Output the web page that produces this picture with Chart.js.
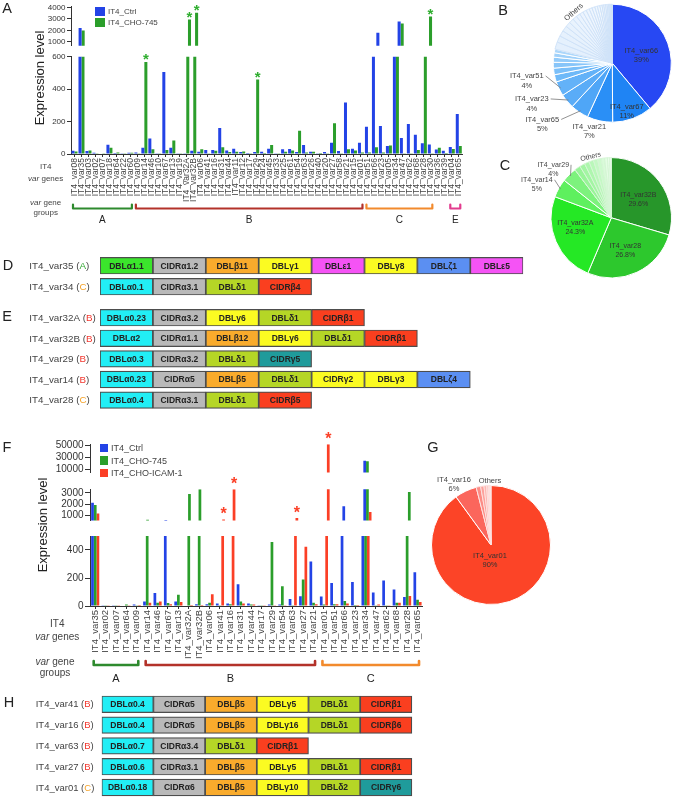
<!DOCTYPE html>
<html>
<head>
<meta charset="utf-8">
<title>IT4 var gene expression</title>
<script src="https://cdn.jsdelivr.net/npm/chart.js@4.4.1/dist/chart.umd.min.js"></script>
<style>
  html, body { margin: 0; padding: 0; background: #fff; }
  #fig { position: relative; width: 675px; height: 801px; overflow: hidden;
         font-family: 'Liberation Sans', Arial, sans-serif; color: #333; }
  #fig canvas { position: absolute; }
  .t { position: absolute; white-space: nowrap; line-height: 1; }
  .sq { position: absolute; }
</style>
</head>
<body>
<div id="fig"></div>
<script>
// ---------- panel A : IT4_Ctrl vs IT4_CHO-745 ----------
const genesA = ['IT4_var08','IT4_var35','IT4_var03','IT4_var02','IT4_var07','IT4_var18','IT4_var64','IT4_var22',
  'IT4_var60','IT4_var09','IT4_var14','IT4_var46','IT4_var10','IT4_var67','IT4_var13','IT4_var19','IT4_var32A',
  'IT4_var32B','IT4_var06','IT4_var41','IT4_var16','IT4_var31','IT4_var44','IT4_var11','IT4_var12','IT4_var17',
  'IT4_var29','IT4_var24','IT4_var45','IT4_var33','IT4_var25','IT4_var61','IT4_var54','IT4_var63','IT4_var26',
  'IT4_var40','IT4_var20','IT4_var27','IT4_var58','IT4_var21','IT4_var15','IT4_var01','IT4_var51','IT4_var66',
  'IT4_var23','IT4_var05','IT4_var34','IT4_var47','IT4_var62','IT4_var68','IT4_var28','IT4_var30','IT4_var36',
  'IT4_var39','IT4_var04','IT4_var65'];
const ctrlA = [20, 2200, 18, 8, 3, 57, 6, 4, 8, 10, 39, 96, 2, 506, 39, 1, 4, 20, 14, 25, 25, 160, 22, 33, 12, 6,
  12, 14, 33, 1, 29, 31, 12, 55, 14, 1, 12, 70, 18, 318, 33, 70, 168, 1800, 172, 49, 2780, 98, 185, 119, 66, 59,
  27, 20, 43, 246];
const cho745A = [15, 1980, 22, 2, 2, 39, 10, 2, 8, 2, 568, 30, 2, 25, 84, 1, 2950, 3550, 29, 2, 20, 41, 12, 14, 16, 1,
  459, 6, 55, 1, 14, 22, 143, 10, 14, 6, 2, 189, 2, 29, 22, 10, 10, 41, 10, 53, 2600, 2, 2, 25, 3210, 2,
  39, 6, 31, 49];
const starsA = ['IT4_var14', 'IT4_var32A', 'IT4_var32B', 'IT4_var29', 'IT4_var28'];
const ticksA_top = [1000, 2000, 3000, 4000];
const ticksA_low = [0, 200, 400, 600];
const groupsA = [['A', 'IT4_var08', 'IT4_var60'], ['B', 'IT4_var09', 'IT4_var01'],
  ['C', 'IT4_var51', 'IT4_var30'], ['E', 'IT4_var04', 'IT4_var65']];

// ---------- panel F : Ctrl / CHO-745 / CHO-ICAM-1 ----------
const genesF = ['IT4_var35','IT4_var02','IT4_var07','IT4_var64','IT4_var09','IT4_var14','IT4_var46','IT4_var67',
  'IT4_var13','IT4_var32A','IT4_var32B','IT4_var06','IT4_var41','IT4_var16','IT4_var31','IT4_var44','IT4_var17',
  'IT4_var29','IT4_var54','IT4_var63','IT4_var27','IT4_var21','IT4_var01','IT4_var51','IT4_var66','IT4_var23',
  'IT4_var34','IT4_var47','IT4_var62','IT4_var68','IT4_var28','IT4_var65'];
const ctrlF = [2130, 5, 1, 3, 10, 33, 93, 590, 33, 3, 12, 12, 17, 17, 155, 17, 5, 10, 10, 50, 69, 318, 67, 165,
  1800, 172, 24600, 96, 182, 117, 65, 241];
const cho745F = [1920, 1, 1, 10, 2, 600, 24, 22, 81, 2900, 3320, 24, 1, 12, 33, 10, 1, 457, 141, 2, 189, 24, 10, 12,
  36, 7, 23700, 2, 2, 24, 3080, 45];
const icamF = [1160, 1, 1, 2, 7, 24, 33, 12, 29, 7, 7, 84, 640, 3320, 17, 10, 1, 1, 1, 760, 423, 12, 52000, 12,
  17, 7, 1300, 10, 5, 24, 72, 29];
const starsF = ['IT4_var41', 'IT4_var16', 'IT4_var63', 'IT4_var01'];
const ticksF_top = [10000, 30000, 50000];
const ticksF_mid = [1000, 2000, 3000];
const ticksF_low = [0, 100, 200, 300, 400, 500];
const groupsF = [['A', 'IT4_var35', 'IT4_var09'], ['B', 'IT4_var14', 'IT4_var21'], ['C', 'IT4_var01', 'IT4_var65']];

// ---------- pies B, C, G (percent of total) ----------
const pieB_labels = ['IT4_var66','IT4_var67','IT4_var21','IT4_var65','IT4_var23','IT4_var51',
  'b1','b2','b3','b4','b5','b6',
  'o1','o2','o3','o4','o5','o6','o7','o8','o9','o10','o11','o12','o13','o14','o15','o16','o17','o18','o19','o20','o21','o22','o23','o24'];
const pieB_values = [39, 11, 7, 5, 4, 4, 2.0, 1.8, 1.6, 1.4, 1.2, 1.0,
  2.0, 1.8, 1.6, 1.5, 1.4, 1.3, 1.2, 1.1, 1.0, 1.0, 0.9, 0.8, 0.8, 0.7, 0.7, 0.6, 0.5, 0.5, 0.4, 0.4, 0.3, 0.3, 0.2, 0.2];
const pieC_labels = ['IT4_var32B','IT4_var28','IT4_var32A','IT4_var14','IT4_var29',
  'o1','o2','o3','o4','o5','o6','o7','o8','o9','o10'];
const pieC_values = [29.6, 26.8, 24.3, 5, 4, 1.6, 1.4, 1.3, 1.2, 1.1, 1.0, 0.9, 0.8, 0.6, 0.4];
const pieG_labels = ['IT4_var01','IT4_var16','o1','o2','o3','o4','o5','o6'];
const pieG_values = [90, 6, 1.2, 0.9, 0.7, 0.5, 0.4, 0.3];

// ---------- domain architectures D, E, H ----------
const rowsD = ['IT4_var35', 'IT4_var34'];
const groupD = ['A', 'C'];
const domainsD = [
  ['DBLα1.1', 'CIDRα1.2', 'DBLβ11', 'DBLγ1', 'DBLε1', 'DBLγ8', 'DBLζ1', 'DBLε5'],
  ['DBLα0.1', 'CIDRα3.1', 'DBLδ1', 'CIDRβ4']
];
const rowsE = ['IT4_var32A', 'IT4_var32B', 'IT4_var29', 'IT4_var14', 'IT4_var28'];
const groupE = ['B', 'B', 'B', 'B', 'C'];
const domainsE = [
  ['DBLα0.23', 'CIDRα3.2', 'DBLγ6', 'DBLδ1', 'CIDRβ1'],
  ['DBLα2', 'CIDRα1.1', 'DBLβ12', 'DBLγ6', 'DBLδ1', 'CIDRβ1'],
  ['DBLα0.3', 'CIDRα3.2', 'DBLδ1', 'CIDRγ5'],
  ['DBLα0.23', 'CIDRα5', 'DBLβ5', 'DBLδ1', 'CIDRγ2', 'DBLγ3', 'DBLζ4'],
  ['DBLα0.4', 'CIDRα3.1', 'DBLδ1', 'CIDRβ5']
];
const rowsH = ['IT4_var41', 'IT4_var16', 'IT4_var63', 'IT4_var27', 'IT4_var01'];
const groupH = ['B', 'B', 'B', 'B', 'C'];
const domainsH = [
  ['DBLα0.4', 'CIDRα5', 'DBLβ5', 'DBLγ5', 'DBLδ1', 'CIDRβ1'],
  ['DBLα0.4', 'CIDRα5', 'DBLβ5', 'DBLγ16', 'DBLδ1', 'CIDRβ6'],
  ['DBLα0.7', 'CIDRα3.4', 'DBLδ1', 'CIDRβ1'],
  ['DBLα0.6', 'CIDRα3.1', 'DBLβ5', 'DBLγ5', 'DBLδ1', 'CIDRβ1'],
  ['DBLα0.18', 'CIDRα6', 'DBLβ5', 'DBLγ10', 'DBLδ2', 'CIDRγ6']
];

// ---------- styling ----------
const FONT = "'Liberation Sans', Arial, sans-serif";
const BLUE = '#2343e6', GREEN = '#2b9e2b', RED = '#fb3f26';
const bracketColors = {A: '#2e8a2e', B: '#b3322a', C: '#f28a2c', E: '#e23c8e'};
const letterColors = {A: '#33a833', B: '#f2372e', C: '#f5a32a'};

Chart.defaults.font.family = FONT;
Chart.defaults.color = '#333';

const fig = document.getElementById('fig');

function addCanvas(x, y, w, h) {
  const c = document.createElement('canvas');
  c.width = w; c.height = h;
  c.style.left = x + 'px'; c.style.top = y + 'px';
  c.style.width = w + 'px'; c.style.height = h + 'px';
  fig.appendChild(c);
  return c;
}

function txt(html, x, y, size, o) {
  o = o || {};
  const d = document.createElement('div');
  d.className = 't';
  d.innerHTML = html;
  d.style.left = x + 'px';
  d.style.top = y + 'px';
  d.style.fontSize = size + 'px';
  if (o.color) d.style.color = o.color;
  const tx = o.anchor === 'l' ? '0' : '-50%';
  d.style.transform = 'translate(' + tx + ',-50%)' + (o.rot ? ' rotate(' + o.rot + 'deg)' : '');
  fig.appendChild(d);
}

function square(x, y, w, h, color) {
  const d = document.createElement('div');
  d.className = 'sq';
  d.style.cssText = 'left:' + x + 'px;top:' + y + 'px;width:' + w + 'px;height:' + h + 'px;background:' + color;
  fig.appendChild(d);
}

// asterisks above significant bars
const starPlugin = {
  id: 'stars',
  afterDatasetsDraw(chart, args, opts) {
    if (!opts || !opts.names) return;
    const meta = chart.getDatasetMeta(opts.dataset);
    const area = chart.chartArea;
    const ctx = chart.ctx;
    ctx.save();
    ctx.fillStyle = opts.color;
    ctx.font = 'bold ' + opts.size + 'px ' + FONT;
    ctx.textAlign = 'center';
    ctx.textBaseline = 'alphabetic';
    opts.names.forEach(n => {
      const el = meta.data[chart.data.labels.indexOf(n)];
      if (el.y < area.top - 0.5 || el.y > area.bottom) return;
      ctx.fillText('*', el.x, el.y + opts.shift);
    });
    ctx.restore();
  }
};

// var gene group brackets under the x labels
const bracketPlugin = {
  id: 'brackets',
  afterDraw(chart, args, opts) {
    if (!opts || !opts.items) return;
    const ctx = chart.ctx, xs = chart.scales.x, labels = chart.data.labels;
    ctx.save();
    ctx.lineWidth = opts.width;
    ctx.lineCap = 'round';
    ctx.lineJoin = 'round';
    ctx.font = opts.font + 'px ' + FONT;
    ctx.textAlign = 'center';
    ctx.textBaseline = 'middle';
    opts.items.forEach(([name, from, to]) => {
      const x1 = xs.getPixelForValue(labels.indexOf(from)) - 1.5;
      const x2 = xs.getPixelForValue(labels.indexOf(to)) + 1.5;
      ctx.strokeStyle = bracketColors[name];
      ctx.beginPath();
      ctx.moveTo(x1, opts.y - opts.tip);
      ctx.lineTo(x1, opts.y);
      ctx.lineTo(x2, opts.y);
      ctx.lineTo(x2, opts.y - opts.tip);
      ctx.stroke();
      ctx.fillStyle = '#222';
      ctx.fillText(name, (x1 + x2) / 2, opts.labelY);
    });
    ctx.restore();
  }
};

// one segment of a broken y axis
function segment(box, area, cfg) {
  const cv = addCanvas(box[0], box[1], box[2], box[3]);
  const bottomRel = area[3] - box[1];
  const xScale = {
    display: !!cfg.showX,
    offset: true,
    grid: {offset: false, drawOnChartArea: false, tickLength: 3, color: '#333'},
    border: {color: '#333'},
    ticks: {autoSkip: false, minRotation: 90, maxRotation: 90, padding: 1,
            font: {size: cfg.xFont}, color: '#444'}
  };
  if (cfg.showX) xScale.afterFit = s => { s.height = box[3] - bottomRel; };
  return new Chart(cv, {
    type: 'bar',
    data: {labels: cfg.labels, datasets: cfg.datasets},
    options: {
      responsive: false, devicePixelRatio: 1, animation: false,
      layout: {autoPadding: false,
               padding: {left: 0, top: area[1] - box[1], right: box[0] + box[2] - area[2],
                         bottom: cfg.showX ? 0 : box[3] - bottomRel}},
      plugins: {legend: {display: false}, tooltip: {enabled: false},
                stars: cfg.stars, brackets: cfg.brackets},
      scales: {
        x: xScale,
        y: {
          min: cfg.min, max: cfg.max,
          grid: {drawOnChartArea: false, tickLength: cfg.tickLen, color: '#333'},
          border: {color: '#333'},
          ticks: {font: {size: cfg.yFont}, color: '#333', padding: 1.5, callback: v => String(v)},
          afterBuildTicks: s => { s.ticks = cfg.ticks.map(v => ({value: v})); },
          afterFit: s => { s.width = area[0] - box[0]; }
        }
      }
    },
    plugins: [starPlugin, bracketPlugin]
  });
}

function barSet(label, data, color, catPct) {
  return {label, data, backgroundColor: color, borderWidth: 0, barPercentage: 1,
          categoryPercentage: catPct, clip: 0};
}

// ---------- panel A ----------
const dsA = () => [barSet('IT4_Ctrl', ctrlA, BLUE, 0.86), barSet('IT4_CHO-745', cho745A, GREEN, 0.86)];
const starOptA = {names: starsA, dataset: 1, color: '#2fae2f', size: 15, shift: 2};
segment([0, 0, 470, 52], [71, 6.5, 468, 49.4],
  {labels: genesA, datasets: dsA(), min: 650, max: 4100, ticks: ticksA_top, yFont: 8, tickLen: 4, stars: starOptA});
segment([0, 50, 470, 185], [71, 56.7, 468, 154],
  {labels: genesA, datasets: dsA(), min: 0, max: 600, ticks: ticksA_low, yFont: 8, tickLen: 4, showX: true, xFont: 8.5,
   stars: starOptA,
   brackets: {items: groupsA, y: 208.5 - 50, tip: 4, width: 2.2, labelY: 220.5 - 50, font: 10}});

// ---------- panel F ----------
const dsF = () => [barSet('IT4_Ctrl', ctrlF, BLUE, 0.78), barSet('IT4_CHO-745', cho745F, GREEN, 0.78),
                   barSet('IT4_CHO-ICAM-1', icamF, RED, 0.78)];
const starOptF = {names: starsF, dataset: 2, color: '#fb3f26', size: 16, shift: 0};
segment([0, 428, 430, 52], [90, 444.3, 425, 476],
  {labels: genesF, datasets: dsF(), min: 5000, max: 52000, ticks: ticksF_top, yFont: 10, tickLen: 5, stars: starOptF});
segment([0, 470, 430, 58], [90, 489.3, 425, 524],
  {labels: genesF, datasets: dsF(), min: 540, max: 3320, ticks: ticksF_mid, yFont: 10, tickLen: 5, stars: starOptF});
segment([0, 528, 430, 160], [90, 536, 425, 606],
  {labels: genesF, datasets: dsF(), min: 0, max: 500, ticks: ticksF_low, yFont: 10, tickLen: 5, showX: true, xFont: 9.5,
   stars: starOptF,
   brackets: {items: groupsF, y: 665 - 528, tip: 4, width: 2.6, labelY: 679 - 528, font: 11}});

// ---------- pies ----------
const pieTextPlugin = {
  id: 'pieText',
  afterDraw(chart, args, opts) {
    const ctx = chart.ctx;
    const meta = chart.getDatasetMeta(0);
    const cx = meta.data[0].x, cy = meta.data[0].y;
    ctx.save();
    ctx.font = opts.font + 'px ' + FONT;
    ctx.textAlign = 'center';
    ctx.textBaseline = 'middle';
    opts.items.forEach(it => {
      const x = cx + it.dx, y = cy + it.dy;
      const lines = it.text.split('\n');
      ctx.save();
      ctx.translate(x, y);
      ctx.rotate((it.rot || 0) * Math.PI / 180);
      ctx.fillStyle = it.color || '#333';
      lines.forEach((l, k) => ctx.fillText(l, 0, (k - (lines.length - 1) / 2) * opts.lineH));
      ctx.restore();
      if (it.leader) {
        const arc = meta.data[chart.data.labels.indexOf(it.label)];
        const mid = (arc.startAngle + arc.endAngle) / 2;
        const ex = cx + Math.cos(mid) * arc.outerRadius * 0.97;
        const ey = cy + Math.sin(mid) * arc.outerRadius * 0.97;
        const w = ctx.measureText(lines[0]).width;
        ctx.strokeStyle = '#777';
        ctx.lineWidth = 0.8;
        ctx.beginPath();
        ctx.moveTo(x + w / 2 + 2, y - opts.lineH / 2);
        ctx.lineTo(ex, ey);
        ctx.stroke();
      }
    });
    ctx.restore();
  }
};

function pie(box, cx, cy, r, labels, values, colors, borders, text) {
  const cv = addCanvas(box[0], box[1], box[2], box[3]);
  const left = cx - r - box[0], top = cy - r - box[1];
  return new Chart(cv, {
    type: 'pie',
    data: {labels, datasets: [{data: values, backgroundColor: colors, borderColor: borders, borderWidth: 1}]},
    options: {
      responsive: false, devicePixelRatio: 1, animation: false,
      layout: {autoPadding: false,
               padding: {left, top, right: box[2] - left - 2 * r, bottom: box[3] - top - 2 * r}},
      plugins: {legend: {display: false}, tooltip: {enabled: false}, pieText: text}
    },
    plugins: [pieTextPlugin]
  });
}

function fade(from, to, n) {
  const out = [];
  for (let i = 0; i < n; i++) {
    const t = n === 1 ? 0 : i / (n - 1);
    const c = from.map((v, k) => Math.round(v + (to[k] - v) * t));
    out.push('rgb(' + c.join(',') + ')');
  }
  return out;
}

const colorsB = ['#2748f3', '#1f84f4', '#2a8ff6', '#4fa6f7', '#5aacf7', '#63b2f8']
  .concat(fade([110, 185, 248], [172, 215, 251], 6))
  .concat(fade([228, 240, 253], [250, 252, 255], 24));
const bordersB = pieB_values.map((v, i) => i < 12 ? '#fff' : '#cfe2f8');
pie([470, 0, 205, 150], 612.3, 63.2, 59.5, pieB_labels, pieB_values, colorsB, bordersB,
  {font: 7.5, lineH: 9.5, items: [
    {label: 'IT4_var66', text: 'IT4_var66\n39%', dx: 29, dy: -8},
    {label: 'IT4_var67', text: 'IT4_var67\n11%', dx: 14.5, dy: 48},
    {label: 'IT4_var21', text: 'IT4_var21\n7%', dx: -23, dy: 68, color: '#444'},
    {label: 'IT4_var65', text: 'IT4_var65\n5%', dx: -70, dy: 61, color: '#444', leader: true},
    {label: 'IT4_var23', text: 'IT4_var23\n4%', dx: -80.5, dy: 40.5, color: '#444', leader: true},
    {label: 'IT4_var51', text: 'IT4_var51\n4%', dx: -85.5, dy: 17.5, color: '#444', leader: true},
    {label: 'o1', text: 'Others', dx: -38.5, dy: -51, rot: -42, color: '#444'}
  ]});

const colorsC = ['#27962a', '#2dc82d', '#25e825', '#5ef05e', '#7df27d'].concat(fade([152, 244, 152], [250, 255, 250], 10));
const bordersC = pieC_values.map((v, i) => i < 5 ? '#fff' : '#d4f5d4');
pie([470, 150, 205, 140], 611.3, 217.8, 60.7, pieC_labels, pieC_values, colorsC, bordersC,
  {font: 7, lineH: 9, items: [
    {label: 'IT4_var32B', text: 'IT4_var32B\n29.6%', dx: 27, dy: -18.5},
    {label: 'IT4_var28', text: 'IT4_var28\n26.8%', dx: 14, dy: 33},
    {label: 'IT4_var32A', text: 'IT4_var32A\n24.3%', dx: -36, dy: 10},
    {label: 'IT4_var14', text: 'IT4_var14\n5%', dx: -74.5, dy: -33.5, color: '#444', leader: true},
    {label: 'IT4_var29', text: 'IT4_var29\n4%', dx: -58, dy: -48.5, color: '#444', leader: true},
    {label: 'o1', text: 'Others', dx: -20.5, dy: -61, rot: -14, color: '#444'}
  ]});

const colorsG = ['#fc4427', '#fb665c'].concat(fade([252, 140, 133], [255, 244, 243], 6));
const bordersG = pieG_values.map((v, i) => i < 2 ? '#fff' : '#fde0de');
pie([420, 465, 200, 150], 491, 545, 60, pieG_labels, pieG_values, colorsG, bordersG,
  {font: 7.5, lineH: 9, items: [
    {label: 'IT4_var01', text: 'IT4_var01\n90%', dx: -1, dy: 15.5},
    {label: 'IT4_var16', text: 'IT4_var16\n6%', dx: -37, dy: -60.5, color: '#444'},
    {label: 'o1', text: 'Others', dx: -1, dy: -64.3, color: '#444'}
  ]});

// ---------- domain diagrams ----------
function domainColor(d) {
  if (d === 'DBLα1.1') return '#3be52c';
  if (d === 'CIDRγ2') return '#fbfb22';
  const pre = d.replace(/[\d.]+$/, '');
  return {'DBLα': '#22eef5', 'CIDRα': '#b9b9b9', 'DBLβ': '#f9ab2c', 'DBLγ': '#fbfb22', 'DBLδ': '#b5d626',
          'CIDRβ': '#fa3f1f', 'CIDRγ': '#1f9b9b', 'DBLε': '#f553f5', 'DBLζ': '#5b8ff2'}[pre];
}

const boxTextPlugin = {
  id: 'boxText',
  afterDatasetsDraw(chart, args, opts) {
    const ctx = chart.ctx;
    ctx.save();
    ctx.font = 'bold 8.5px ' + FONT;
    ctx.fillStyle = '#222';
    ctx.textAlign = 'center';
    ctx.textBaseline = 'middle';
    chart.data.datasets.forEach((ds, i) => {
      chart.getDatasetMeta(i).data.forEach((el, k) => {
        if (ds.names[k]) ctx.fillText(ds.names[k], (el.x + el.base) / 2, el.y + 0.5);
      });
    });
    // row labels, group letter coloured
    ctx.font = opts.size + 'px ' + FONT;
    ctx.textAlign = 'left';
    const ys = chart.scales.y;
    chart.data.labels.forEach((lab, k) => {
      const y = ys.getPixelForValue(k) + 0.5;
      const parts = [[lab + ' (', '#444'], [opts.groups[k], letterColors[opts.groups[k]]], [')', '#444']];
      let x = opts.x;
      parts.forEach(([s, c]) => {
        ctx.fillStyle = c;
        ctx.fillText(s, x, y);
        x += ctx.measureText(s).width;
      });
    });
    ctx.restore();
  }
};

function domains(box, left, unit, top, pitch, rows, groups, doms, labelX, labelSize) {
  const cv = addCanvas(box[0], box[1], box[2], box[3]);
  const maxLen = 8;
  const datasets = [];
  for (let j = 0; j < maxLen; j++) {
    datasets.push({
      data: doms.map(r => r[j] ? [j, j + 1] : null),
      names: doms.map(r => r[j] || ''),
      backgroundColor: doms.map(r => r[j] ? domainColor(r[j]) : 'rgba(0,0,0,0)'),
      borderColor: '#4d4d4d', borderWidth: 1.2, borderSkipped: false,
      grouped: false, barThickness: 16.6
    });
  }
  return new Chart(cv, {
    type: 'bar',
    data: {labels: rows, datasets},
    options: {
      indexAxis: 'y', responsive: false, devicePixelRatio: 1, animation: false,
      layout: {autoPadding: false,
               padding: {left: left - box[0], right: box[0] + box[2] - (left + unit * maxLen),
                         top: top - box[1], bottom: box[1] + box[3] - (top + pitch * rows.length)}},
      plugins: {legend: {display: false}, tooltip: {enabled: false},
                boxText: {groups, x: labelX - box[0], size: labelSize}},
      scales: {x: {display: false, min: 0, max: maxLen}, y: {display: false}}
    },
    plugins: [boxTextPlugin]
  });
}

domains([0, 250, 675, 52], 100, 52.9, 255.2, 21, rowsD, groupD, domainsD, 29.3, 9.8);
domains([0, 303, 675, 112], 100, 52.9, 307.4, 20.6, rowsE, groupE, domainsE, 29.3, 9.8);
domains([0, 690, 675, 111], 101.7, 51.7, 693.9, 20.8, rowsH, groupH, domainsH, 35.7, 9.5);

// ---------- static text ----------
[['A', 7, 8], ['B', 503, 10], ['C', 505, 165], ['D', 8, 265], ['E', 7, 316],
 ['F', 7, 447], ['G', 433, 447], ['H', 9, 702]].forEach(([s, x, y]) => txt(s, x, y, 14.5, {color: '#222'}));

txt('Expression level', 39, 78, 13, {rot: -90, color: '#222'});
txt('IT4', 45.7, 167.3, 8, {color: '#444'});
txt('<i>var</i> genes', 45.7, 178.5, 8, {color: '#444'});
txt('<i>var</i> gene', 45.7, 202.7, 8, {color: '#444'});
txt('groups', 45.7, 212.7, 8, {color: '#444'});

square(95, 6.7, 10, 9.5, BLUE);
square(95, 17.7, 10, 9.5, GREEN);
txt('IT4_Ctrl', 108, 11.5, 8, {anchor: 'l', color: '#444'});
txt('IT4_CHO-745', 108, 22.5, 8, {anchor: 'l', color: '#444'});

txt('Expression level', 41.5, 525, 13, {rot: -90, color: '#222'});
txt('IT4', 57.3, 624, 10, {color: '#444'});
txt('<i>var</i> genes', 57.3, 636.7, 10, {color: '#444'});
txt('<i>var</i> gene', 55, 661.7, 10, {color: '#444'});
txt('groups', 55, 672.7, 10, {color: '#444'});

square(99.5, 443.5, 8, 8.5, BLUE);
square(99.5, 456, 8, 8.5, GREEN);
square(99.5, 468.5, 8, 8.5, RED);
txt('IT4_Ctrl', 111, 448, 9, {anchor: 'l', color: '#444'});
txt('IT4_CHO-745', 111, 460.5, 9, {anchor: 'l', color: '#444'});
txt('IT4_CHO-ICAM-1', 111, 473, 9, {anchor: 'l', color: '#444'});
</script>
</body>
</html>
